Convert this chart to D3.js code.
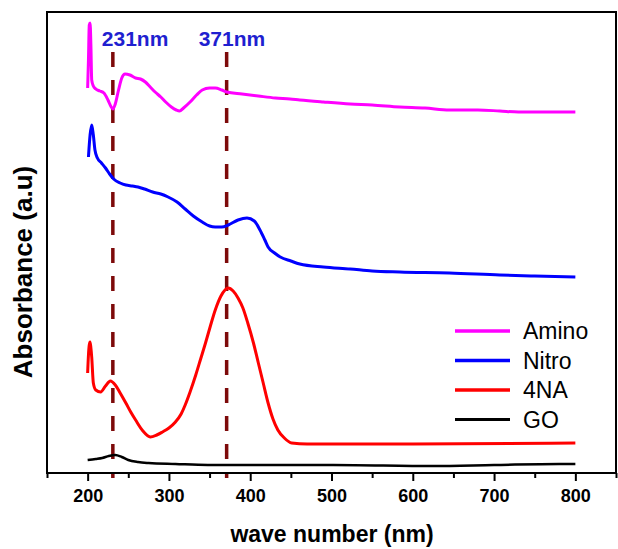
<!DOCTYPE html>
<html>
<head>
<meta charset="utf-8">
<script src="https://cdn.jsdelivr.net/npm/d3@7"></script>
<style>
  body { margin: 0; background: #fff; }
  svg { display: block; font-family: Arial, "Liberation Sans", sans-serif; }
</style>
</head>
<body>
<div id="graf"></div>
<script>
// spectra (wavelength nm, absorbance a.u.)
const aminoWl = [200, 201, 202, 203, 204, 205, 207, 210, 215, 220, 225, 229, 231, 234, 238, 242, 246, 252, 259, 265, 271, 277, 283, 290, 296, 303, 309, 313, 318, 326, 334, 341, 350, 357, 365, 371, 390, 410, 431, 449, 461, 490, 523, 550, 584, 615, 645, 680, 707, 730, 747, 770, 800];
const aminoAbs = [3.85, 4.13, 4.48, 4.50, 4.28, 3.93, 3.87, 3.84, 3.82, 3.80, 3.73, 3.66, 3.64, 3.69, 3.83, 3.95, 3.99, 3.98, 3.95, 3.94, 3.91, 3.86, 3.81, 3.76, 3.71, 3.66, 3.63, 3.62, 3.65, 3.71, 3.78, 3.83, 3.85, 3.85, 3.83, 3.81, 3.79, 3.77, 3.75, 3.74, 3.73, 3.71, 3.69, 3.68, 3.66, 3.65, 3.63, 3.63, 3.62, 3.61, 3.61, 3.61, 3.61];

const nitroWl = [201, 203, 205, 207, 209, 212, 217, 222, 227, 232, 240, 247, 255, 262, 270, 280, 290, 299, 310, 320, 330, 341, 350, 357, 365, 373, 385, 396, 405, 412, 418, 422, 430, 437, 450, 461, 490, 523, 550, 584, 645, 707, 750, 800];
const nitroAbs = [3.16, 3.38, 3.48, 3.38, 3.23, 3.15, 3.10, 3.05, 2.99, 2.94, 2.90, 2.88, 2.87, 2.86, 2.84, 2.81, 2.79, 2.76, 2.71, 2.64, 2.57, 2.51, 2.47, 2.46, 2.46, 2.48, 2.53, 2.55, 2.52, 2.43, 2.33, 2.26, 2.20, 2.16, 2.12, 2.09, 2.06, 2.04, 2.02, 2.01, 2.00, 1.98, 1.97, 1.96];

const naWl = [200, 201, 202, 203, 204, 205, 207, 210, 216, 222, 228, 234, 240, 247, 253, 259, 268, 277, 285, 292, 300, 308, 315, 320, 326, 333, 339, 345, 351, 357, 364, 369, 373, 379, 385, 391, 397, 404, 410, 416, 422, 428, 434, 442, 451, 470, 600, 800];
const naAbs = [1.00, 1.18, 1.28, 1.31, 1.25, 1.16, 0.90, 0.83, 0.81, 0.87, 0.92, 0.88, 0.80, 0.70, 0.61, 0.53, 0.42, 0.36, 0.38, 0.41, 0.45, 0.51, 0.59, 0.68, 0.81, 0.98, 1.14, 1.30, 1.47, 1.63, 1.77, 1.83, 1.85, 1.82, 1.75, 1.65, 1.50, 1.30, 1.10, 0.90, 0.70, 0.54, 0.43, 0.35, 0.30, 0.29, 0.29, 0.30];

const goWl = [200, 210, 218, 226, 234, 242, 250, 262, 275, 308, 348, 400, 502, 625, 700, 780, 800];
const goAbs = [0.13, 0.14, 0.15, 0.17, 0.18, 0.16, 0.13, 0.11, 0.10, 0.09, 0.08, 0.08, 0.08, 0.07, 0.08, 0.09, 0.09];

const seriesNames = ["Amino", "Nitro", "4NA", "GO"];
const seriesColors = ["#ff00ff", "#0000ff", "#ff0000", "#000000"];
const markers = [231, 371];
const majorTicks = [200, 300, 400, 500, 600, 700, 800];
const minorTicks = [150, 250, 350, 450, 550, 650, 750, 850];

const ancho_total = 618;
const alto_total = 549;

const svg = d3.select("#graf")
  .append("svg")
  .attr("width", ancho_total)
  .attr("height", alto_total);

const x = d3.scaleLinear().domain([150, 850]).range([47, 616]);
const y = d3.scaleLinear().domain([0, 4.61]).range([473, 12]);

const series = [
  { name: seriesNames[0], color: seriesColors[0], wl: aminoWl, abs: aminoAbs, w: 3 },
  { name: seriesNames[1], color: seriesColors[1], wl: nitroWl, abs: nitroAbs, w: 3 },
  { name: seriesNames[2], color: seriesColors[2], wl: naWl, abs: naAbs, w: 3 },
  { name: seriesNames[3], color: seriesColors[3], wl: goWl, abs: goAbs, w: 2.5 },
];

// dashed marker lines
svg.selectAll(".marker")
  .data(markers)
  .enter()
  .append("line")
  .attr("class", "marker")
  .attr("x1", d => x(d))
  .attr("x2", d => x(d))
  .attr("y1", 52)
  .attr("y2", 478)
  .attr("stroke", "#7d0a0a")
  .attr("stroke-width", 3.5)
  .attr("stroke-dasharray", "15,13");

const line = d3.line()
  .x(d => x(d[0]))
  .y(d => y(d[1]))
  .curve(d3.curveMonotoneX);

svg.selectAll(".serie")
  .data(series)
  .enter()
  .append("path")
  .attr("class", "serie")
  .attr("fill", "none")
  .attr("stroke", d => d.color)
  .attr("stroke-width", d => d.w)
  .attr("stroke-linejoin", "round")
  .attr("d", d => line(d.wl.map((w, i) => [w, d.abs[i]])));

// frame
svg.append("rect")
  .attr("x", x.range()[0])
  .attr("y", y.range()[1])
  .attr("width", x.range()[1] - x.range()[0])
  .attr("height", y.range()[0] - y.range()[1])
  .attr("fill", "none")
  .attr("stroke", "#000")
  .attr("stroke-width", 2);

// x axis
const xAxis = svg.append("g")
  .attr("transform", `translate(0, ${y.range()[0]})`)
  .call(d3.axisBottom(x).tickValues(majorTicks).tickSize(8).tickPadding(8));
const xMinor = svg.append("g")
  .attr("transform", `translate(0, ${y.range()[0]})`)
  .call(d3.axisBottom(x).tickValues(minorTicks).tickSize(5).tickFormat(""));
[xAxis, xMinor].forEach(a => {
  a.select(".domain").remove();
  a.selectAll("line").attr("stroke", "#000").attr("stroke-width", 2);
});
xAxis.selectAll("text")
  .attr("fill", "#000")
  .style("font-size", "18px")
  .style("font-weight", "bold");

// axis titles
svg.append("text")
  .attr("x", 332)
  .attr("y", 542)
  .attr("text-anchor", "middle")
  .style("font-size", "23px")
  .style("font-weight", "bold")
  .text("wave number (nm)");

svg.append("text")
  .attr("transform", "translate(32, 272) rotate(-90)")
  .attr("text-anchor", "middle")
  .style("font-size", "26px")
  .style("font-weight", "bold")
  .text("Absorbance (a.u)");

// marker labels
const labelDx = [-11, -28];
svg.selectAll(".mlabel")
  .data(markers)
  .enter()
  .append("text")
  .attr("class", "mlabel")
  .attr("x", (d, i) => x(d) + labelDx[i])
  .attr("y", 46)
  .attr("fill", "#1f1fd0")
  .style("font-size", "21px")
  .style("font-weight", "bold")
  .text(d => d + "nm");

// legend
const leg = svg.selectAll(".leg")
  .data(series)
  .enter()
  .append("g")
  .attr("class", "leg")
  .attr("transform", (d, i) => `translate(455, ${331 + i * 29.5})`);
leg.append("line")
  .attr("x1", 0)
  .attr("x2", 55)
  .attr("stroke", d => d.color)
  .attr("stroke-width", d => d.w + 0.5);
leg.append("text")
  .attr("x", 68)
  .attr("dy", "0.35em")
  .style("font-size", "23px")
  .text(d => d.name);
</script>
</body>
</html>
